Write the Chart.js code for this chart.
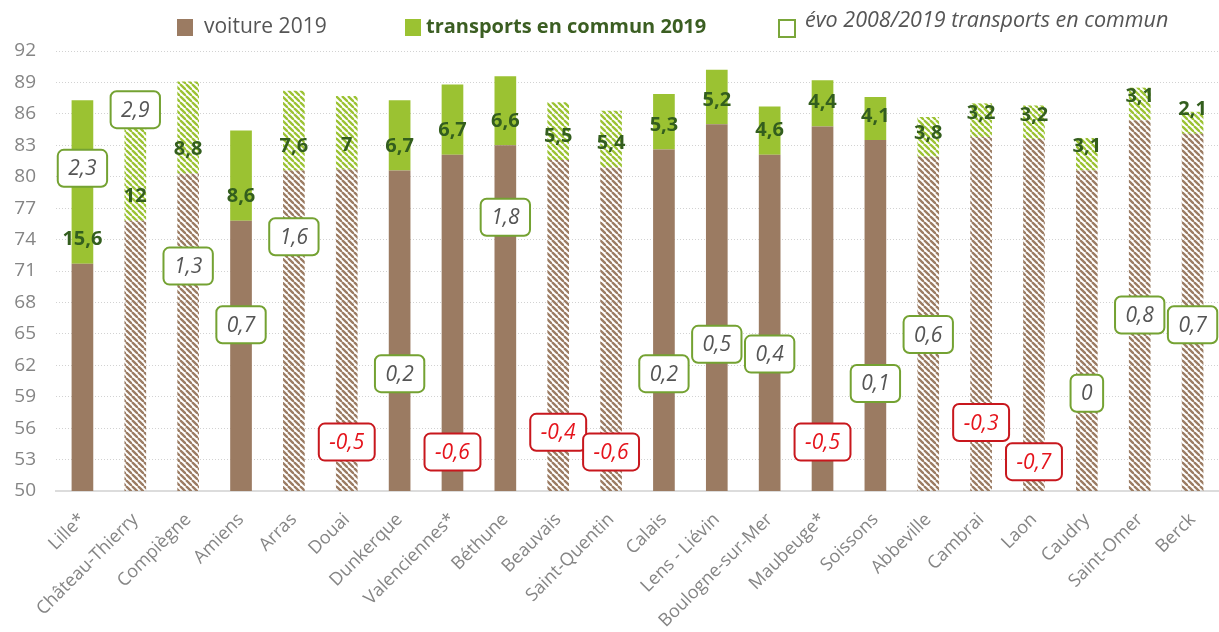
<!DOCTYPE html>
<html>
<head>
<meta charset="utf-8">
<script src="https://cdn.jsdelivr.net/npm/chart.js@4"></script>
<style>
  html, body { margin: 0; padding: 0; background: #fff; }
  #wrap { width: 1219px; height: 632px; }
</style>
</head>
<body>
<div id="wrap"><canvas id="chart"></canvas></div>
<script>
// Data
const cities = ['Lille*', 'Château-Thierry', 'Compiègne', 'Amiens', 'Arras', 'Douai', 'Dunkerque', 'Valenciennes*',
  'Béthune', 'Beauvais', 'Saint-Quentin', 'Calais', 'Lens - Liévin', 'Boulogne-sur-Mer', 'Maubeuge*', 'Soissons',
  'Abbeville', 'Cambrai', 'Laon', 'Caudry', 'Saint-Omer', 'Berck'];
const voiture2019 = [71.7, 75.8, 80.3, 75.8, 80.6, 80.7, 80.6, 82.1, 83.0, 81.6, 80.9, 82.6, 85.0, 82.1, 84.8, 83.5,
  81.9, 83.8, 83.6, 80.6, 85.4, 84.1];
const tc2019 = [15.6, 12, 8.8, 8.6, 7.6, 7, 6.7, 6.7, 6.6, 5.5, 5.4, 5.3, 5.2, 4.6, 4.4, 4.1, 3.8, 3.2, 3.2, 3.1, 3.1, 2.1];
const evoTc = [2.3, 2.9, 1.3, 0.7, 1.6, -0.5, 0.2, -0.6, 1.8, -0.4, -0.6, 0.2, 0.5, 0.4, -0.5, 0.1, 0.6, -0.3, -0.7, 0,
  0.8, 0.7];
// hatched bars (lower reliability)
const hatched = [false, true, true, false, true, true, false, false, false, true, true, false, false, false, false,
  false, true, true, true, true, true, true];

const BROWN = '#9b7b62';
const GREEN = '#9bc232';
const FONT = '"Open Sans", sans-serif';

// Function to build a diagonal stripe pattern
function makeHatch(color) {
    const s = 6;
    const tile = document.createElement('canvas');
    tile.width = s;
    tile.height = s;
    const c = tile.getContext('2d');
    c.strokeStyle = color;
    c.lineWidth = 2.3;
    for (let x0 = -s; x0 <= s; x0 += s) {
        c.beginPath();
        c.moveTo(x0, 0);
        c.lineTo(x0 + s, s);
        c.stroke();
    }
    return c.createPattern(tile, 'repeat');
}

const brownHatch = makeHatch(BROWN);
const greenHatch = makeHatch(GREEN);

const fmt = v => String(v).replace('.', ',');

function roundRect(ctx, x, y, w, h, r) {
    ctx.beginPath();
    ctx.moveTo(x + r, y);
    ctx.arcTo(x + w, y, x + w, y + h, r);
    ctx.arcTo(x + w, y + h, x, y + h, r);
    ctx.arcTo(x, y + h, x, y, r);
    ctx.arcTo(x, y, x + w, y, r);
    ctx.closePath();
}

// Labels on bars and boxes for the evolution
const labelPlugin = {
    id: 'labels',
    afterDatasetsDraw(chart) {
        const ctx = chart.ctx;
        ctx.save();
        ctx.textAlign = 'center';
        ctx.textBaseline = 'middle';

        const tcMeta = chart.getDatasetMeta(1);
        ctx.font = 'bold 20px ' + FONT;
        ctx.fillStyle = '#335e1e';
        tcMeta.data.forEach((bar, i) => {
            ctx.fillText(fmt(tc2019[i]), bar.x, bar.base - 24);
        });

        const evoMeta = chart.getDatasetMeta(2);
        ctx.font = 'italic 21px ' + FONT;
        evoMeta.data.forEach((pt, i) => {
            const txt = fmt(evoTc[i]);
            const neg = evoTc[i] < 0;
            const w = ctx.measureText(txt).width + 21;
            const h = 37;
            roundRect(ctx, pt.x - w / 2, pt.y - h / 2, w, h, 6);
            ctx.fillStyle = '#fff';
            ctx.fill();
            ctx.lineWidth = 2;
            ctx.strokeStyle = neg ? '#c8171d' : '#74a232';
            ctx.stroke();
            ctx.fillStyle = neg ? '#e5141c' : '#555555';
            ctx.fillText(txt, pt.x, pt.y + 1);
        });
        ctx.restore();
    },
    afterDraw(chart) {
        // legend
        const ctx = chart.ctx;
        ctx.save();
        ctx.textBaseline = 'middle';
        ctx.textAlign = 'left';
        ctx.fillStyle = BROWN;
        ctx.fillRect(177, 19, 16, 17);
        ctx.font = '21px ' + FONT;
        ctx.fillStyle = '#555555';
        ctx.fillText('voiture 2019', 204, 27);

        ctx.fillStyle = GREEN;
        ctx.fillRect(405, 19, 16, 17);
        ctx.font = 'bold 20px ' + FONT;
        ctx.fillStyle = '#3b5e22';
        ctx.fillText('transports en commun 2019', 426, 27);

        ctx.lineWidth = 2;
        ctx.strokeStyle = '#7aa63a';
        ctx.strokeRect(779, 20, 16, 17);
        ctx.font = 'italic 21.5px ' + FONT;
        ctx.fillStyle = '#555555';
        ctx.fillText('évo 2008/2019 transports en commun', 805, 21);
        ctx.restore();
    }
};

const ctx = document.getElementById('chart').getContext('2d');
new Chart(ctx, {
    type: 'bar',
    data: {
        labels: cities,
        datasets: [
            {
                label: 'voiture 2019',
                data: voiture2019,
                backgroundColor: hatched.map(h => h ? brownHatch : BROWN),
                borderWidth: 0,
                stack: 'modes',
                order: 2
            },
            {
                label: 'transports en commun 2019',
                data: tc2019,
                backgroundColor: hatched.map(h => h ? greenHatch : GREEN),
                borderWidth: 0,
                stack: 'modes',
                order: 2
            },
            {
                type: 'line',
                label: 'évo 2008/2019 transports en commun',
                data: evoTc,
                yAxisID: 'y2',
                showLine: false,
                pointRadius: 0,
                order: 1
            }
        ]
    },
    options: {
        responsive: true,
        maintainAspectRatio: false,
        animation: false,
        layout: { padding: { top: 51, right: 0, left: 0, bottom: 0 } },
        datasets: {
            bar: { categoryPercentage: 1, barPercentage: 0.41 }
        },
        plugins: {
            legend: { display: false },
            tooltip: { enabled: false },
            title: { display: false }
        },
        scales: {
            x: {
                stacked: true,
                grid: { display: false },
                border: { display: true, color: '#dcdcdc', width: 2 },
                ticks: {
                    color: '#858585',
                    font: { family: FONT, size: 18 },
                    minRotation: 45,
                    maxRotation: 45,
                    autoSkip: false,
                    padding: 10
                },
                afterFit(scale) { scale.height = 141; }
            },
            y: {
                stacked: true,
                min: 50,
                max: 92,
                grid: { color: '#d2d2d2', lineWidth: 1, drawTicks: false },
                border: { display: false, dash: [1, 2] },
                ticks: {
                    stepSize: 3,
                    color: '#858585',
                    font: { family: FONT, size: 19 },
                    padding: 20
                },
                afterFit(scale) { scale.width = 56; }
            },
            y2: {
                display: false,
                min: -1,
                max: 3.5
            }
        }
    },
    plugins: [labelPlugin]
});
</script>
</body>
</html>
